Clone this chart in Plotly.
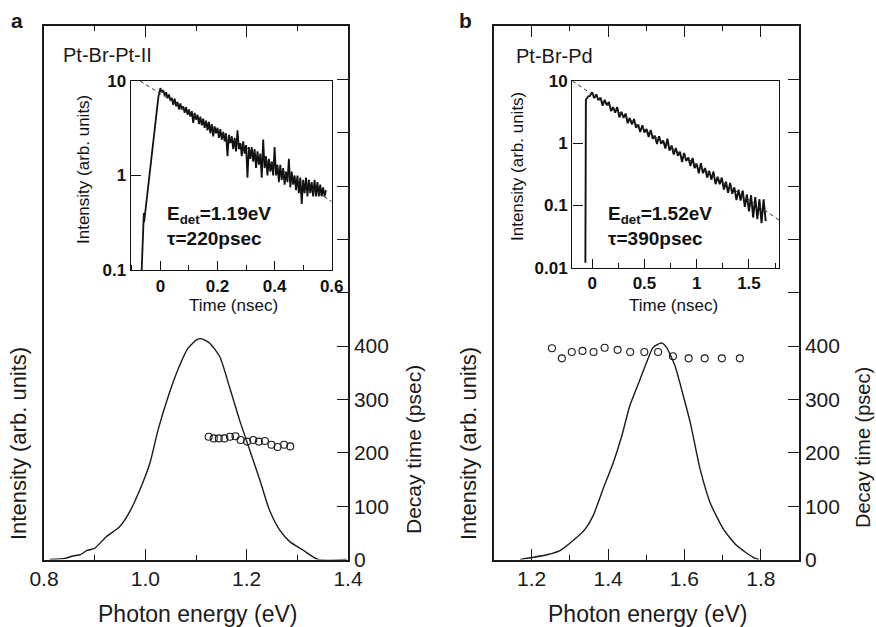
import plotly.graph_objects as go

W, H = 876, 627
def fx(p): return p / W
def fy(p): return 1 - p / H

# ---------------- Data ----------------
# Panel a: Pt-Br-Pt-II emission spectrum (normalised) and decay times
spec_a_E = [0.811, 0.841, 0.857, 0.872, 0.884, 0.900, 0.923, 0.949, 0.969, 0.989, 1.009, 1.025, 1.045,
            1.064, 1.084, 1.101, 1.110, 1.127, 1.147, 1.166, 1.186, 1.206, 1.226, 1.245, 1.265, 1.285,
            1.311, 1.341, 1.397]
spec_a_I = [0.0, 0.005, 0.016, 0.022, 0.040, 0.051, 0.103, 0.148, 0.216, 0.315, 0.436, 0.586, 0.737,
            0.858, 0.956, 0.994, 1.0, 0.979, 0.918, 0.782, 0.631, 0.496, 0.360, 0.224, 0.134, 0.081,
            0.043, 0.0, 0.0]
dec_a_E = [1.125, 1.135, 1.145, 1.156, 1.167, 1.178, 1.188, 1.201, 1.213, 1.224, 1.236, 1.249, 1.261, 1.274, 1.286]
dec_a_T = [230, 227, 227, 227, 230, 231, 224, 221, 224, 221, 222, 215, 211, 215, 212]

# Panel b: Pt-Br-Pd
spec_b_E = [1.170, 1.200, 1.240, 1.274, 1.313, 1.340, 1.361, 1.387, 1.414, 1.436, 1.457, 1.479, 1.501,
            1.518, 1.540, 1.553, 1.575, 1.597, 1.616, 1.641, 1.667, 1.702, 1.737, 1.780, 1.795]
spec_b_I = [0.0, 0.009, 0.022, 0.041, 0.094, 0.140, 0.202, 0.325, 0.448, 0.570, 0.708, 0.808, 0.908,
            0.977, 0.997, 0.977, 0.893, 0.754, 0.625, 0.417, 0.263, 0.140, 0.064, 0.010, 0.0]
dec_b_E = [1.253, 1.279, 1.305, 1.333, 1.362, 1.391, 1.425, 1.458, 1.495, 1.531, 1.570, 1.611, 1.653, 1.698, 1.745]
dec_b_T = [396, 377, 389, 391, 389, 397, 393, 389, 389, 389, 381, 377, 377, 377, 377]

# Inset a: decay trace at 1.19 eV
ins_a_t = [-0.0655, -0.061, -0.058, -0.057, -0.050, -0.042, -0.025, -0.007,
           0.000, 0.005, 0.010, 0.015, 0.020, 0.025, 0.030, 0.035, 0.040, 0.045, 0.050, 0.055, 0.060, 0.065,
           0.070, 0.075, 0.080, 0.085, 0.090, 0.095, 0.100, 0.105, 0.110, 0.115, 0.120, 0.125, 0.130, 0.135,
           0.140, 0.145, 0.150, 0.155, 0.160, 0.165, 0.170, 0.175, 0.180, 0.185, 0.190, 0.195, 0.200, 0.205,
           0.210, 0.215, 0.220, 0.225, 0.230, 0.235, 0.240, 0.245, 0.250, 0.255, 0.260, 0.265, 0.270, 0.275,
           0.280, 0.285, 0.290, 0.295, 0.300, 0.305, 0.310, 0.315, 0.320, 0.325, 0.330, 0.335, 0.340, 0.345,
           0.350, 0.355, 0.360, 0.365, 0.370, 0.375, 0.380, 0.385, 0.390, 0.395, 0.400, 0.405, 0.410, 0.415,
           0.420, 0.425, 0.430, 0.435, 0.440, 0.445, 0.450, 0.455, 0.460, 0.465, 0.470, 0.475, 0.480, 0.485,
           0.490, 0.495, 0.500, 0.505, 0.510, 0.515, 0.520, 0.525, 0.530, 0.535, 0.540, 0.545, 0.550, 0.555,
           0.560, 0.565, 0.570, 0.575, 0.580]
ins_a_I = [0.1, 0.3, 0.4, 0.32, 0.5, 0.78, 2.4, 6.8,
           8.4, 7.6, 8.0, 7.0, 7.6, 6.6, 7.2, 6.2, 6.6, 5.6, 6.5, 5.4, 6.0, 5.0,
           5.8, 5.0, 5.4, 4.6, 5.3, 4.4, 5.0, 4.2, 4.8, 3.6, 4.6, 3.9, 4.4, 3.5,
           4.2, 3.4, 4.0, 3.2, 3.8, 3.0, 3.7, 2.8, 3.5, 2.6, 3.3, 2.8, 3.2, 2.5,
           3.1, 2.4, 2.9, 2.3, 2.8, 1.6, 2.7, 2.2, 2.6, 1.9, 2.5, 1.8, 3.0, 1.9,
           2.2, 1.6, 2.3, 1.7, 2.1, 0.95, 2.0, 1.5, 2.0, 1.4, 1.9, 1.2, 1.8, 1.3,
           1.7, 0.95, 2.4, 1.2, 1.6, 1.0, 1.5, 1.1, 1.4, 1.0, 2.0, 1.0, 1.3, 0.85,
           1.3, 0.9, 1.2, 0.8, 1.1, 0.85, 1.5, 0.75, 1.1, 0.8, 1.0, 0.7, 1.0, 0.65,
           0.95, 0.5, 0.9, 0.65, 0.95, 0.6, 0.9, 0.65, 0.85, 0.6, 0.9, 0.6, 0.85, 0.6,
           0.8, 0.6, 0.75, 0.6, 0.7]
fit_a_t = [-0.071, 0.60]
fit_a_I = [10.0, 0.53]

# Inset b: decay trace at 1.52 eV
ins_b_t = [-0.065, -0.060, -0.040, -0.020,
           0.00, 0.02, 0.04, 0.06, 0.08, 0.10, 0.12, 0.14, 0.16, 0.18, 0.20, 0.22, 0.24, 0.26, 0.28, 0.30,
           0.32, 0.34, 0.36, 0.38, 0.40, 0.42, 0.44, 0.46, 0.48, 0.50, 0.52, 0.54, 0.56, 0.58, 0.60, 0.62,
           0.64, 0.66, 0.68, 0.70, 0.72, 0.74, 0.76, 0.78, 0.80, 0.82, 0.84, 0.86, 0.88, 0.90, 0.92, 0.94,
           0.96, 0.98, 1.00, 1.02, 1.04, 1.06, 1.08, 1.10, 1.12, 1.14, 1.16, 1.18, 1.20, 1.22, 1.24, 1.26,
           1.28, 1.30, 1.32, 1.34, 1.36, 1.38, 1.40, 1.42, 1.44, 1.46, 1.48, 1.50, 1.52, 1.54, 1.56, 1.58,
           1.60, 1.62, 1.64, 1.66]
ins_b_I = [0.012, 5.0, 5.6, 5.8,
           6.6, 5.3, 6.1, 4.9, 5.4, 4.0, 5.0, 4.1, 4.6, 3.3, 3.8, 3.1, 3.8, 2.6, 3.2, 2.55,
           3.0, 2.1, 2.55, 2.0, 2.45, 1.77, 2.0, 1.52, 1.95, 1.49, 1.69, 1.26, 1.63, 1.18, 1.32, 0.97,
           1.29, 0.98, 1.11, 0.82, 1.18, 0.76, 0.92, 0.66, 0.84, 0.63, 0.73, 0.50, 0.70, 0.52, 0.59, 0.43,
           0.58, 0.40, 0.47, 0.33, 0.48, 0.33, 0.40, 0.28, 0.36, 0.26, 0.35, 0.22, 0.29, 0.22, 0.28, 0.18,
           0.24, 0.16, 0.23, 0.154, 0.195, 0.122, 0.18, 0.12, 0.174, 0.095, 0.15, 0.08, 0.146, 0.064, 0.136, 0.06,
           0.126, 0.052, 0.126, 0.056]
fit_b_t = [-0.19, 1.79]
fit_b_I = [10.0, 0.058]

# ---------------- Figure ----------------
INK = "#1a1a1a"
FONT = "Liberation Sans"
fig = go.Figure()

fig.add_trace(go.Scatter(x=spec_a_E, y=spec_a_I, mode="lines", line=dict(color=INK, width=1.4, smoothing=0.6),
                         line_shape="spline", xaxis="x", yaxis="y", showlegend=False))
fig.add_trace(go.Scatter(x=dec_a_E, y=dec_a_T, mode="markers",
                         marker=dict(symbol="circle-open", size=7, color=INK, line=dict(width=1.1)),
                         xaxis="x", yaxis="y2", showlegend=False))
fig.add_trace(go.Scatter(x=ins_a_t, y=ins_a_I, mode="lines", line=dict(color="#111", width=1.8),
                         xaxis="x2", yaxis="y3", showlegend=False))
fig.add_trace(go.Scatter(x=fit_a_t, y=fit_a_I, mode="lines", line=dict(color="#333", width=1, dash="4px,3px"),
                         xaxis="x2", yaxis="y3", showlegend=False))

fig.add_trace(go.Scatter(x=spec_b_E, y=spec_b_I, mode="lines", line=dict(color=INK, width=1.4, smoothing=0.6),
                         line_shape="spline", xaxis="x3", yaxis="y4", showlegend=False))
fig.add_trace(go.Scatter(x=dec_b_E, y=dec_b_T, mode="markers",
                         marker=dict(symbol="circle-open", size=7, color=INK, line=dict(width=1.1)),
                         xaxis="x3", yaxis="y5", showlegend=False))
fig.add_trace(go.Scatter(x=ins_b_t, y=ins_b_I, mode="lines", line=dict(color="#111", width=1.9),
                         xaxis="x4", yaxis="y6", showlegend=False))
fig.add_trace(go.Scatter(x=fit_b_t, y=fit_b_I, mode="lines", line=dict(color="#333", width=1, dash="4px,3px"),
                         xaxis="x4", yaxis="y6", showlegend=False))

# empty traces so that the top (mirror) energy axes get their own subplots
fig.add_trace(go.Scatter(x=[], y=[], mode="lines", xaxis="x5", yaxis="y", showlegend=False, hoverinfo="skip"))
fig.add_trace(go.Scatter(x=[], y=[], mode="lines", xaxis="x6", yaxis="y4", showlegend=False, hoverinfo="skip"))

main_tick = dict(family=FONT, size=21, color=INK)
ins_tick = dict(family=FONT, size=17, color="#111", weight="bold")

def main_x(dom, rng, t0, anchor, top=False, over=None):
    d = dict(range=rng, anchor=anchor, showline=True, linecolor=INK,
             linewidth=1.5, ticks="inside", ticklen=11, tickwidth=1.3, tickcolor=INK, tick0=t0, dtick=0.2,
             tickformat=".1f", tickfont=main_tick, showgrid=False, zeroline=False, automargin=False,
             minor=dict(dtick=0.1, tick0=t0, ticks="inside", ticklen=5, tickwidth=1.3, tickcolor=INK))
    if top:
        d.update(overlaying=over, side="top", showticklabels=False)
    else:
        d.update(domain=dom)
    return d

def main_yl(dom, top, anchor):
    return dict(domain=dom, range=[0, top], anchor=anchor, showline=True, linecolor=INK,
                linewidth=1.5, ticks="", showticklabels=False, showgrid=False, zeroline=False, automargin=False)

def main_yr(over, anchor):
    return dict(overlaying=over, anchor=anchor, side="right", range=[0, 1000],
                tickvals=[0, 100, 200, 300, 400], ticks="inside", ticklen=11, tickwidth=1.3, tickcolor=INK,
                tickfont=main_tick, showline=True, linecolor=INK, linewidth=1.5,
                showgrid=False, zeroline=False, automargin=False,
                minor=dict(dtick=100, tick0=0, ticks="inside", ticklen=11, tickwidth=1.3, tickcolor=INK))

def ins_x(dom, rng, vals, texts, mdt, anchor):
    return dict(domain=dom, range=rng, anchor=anchor, showline=True, mirror=True, linecolor="#111",
                linewidth=1.4, ticks="inside", ticklen=9, tickwidth=1.3, tickcolor="#111", tickvals=vals,
                ticktext=texts, tickfont=ins_tick, showgrid=False, zeroline=False, automargin=False,
                minor=dict(dtick=mdt, tick0=0, ticks="inside", ticklen=5, tickwidth=1.3, tickcolor="#111"))

def ins_y(dom, rng, vals, texts, anchor):
    return dict(domain=dom, type="log", range=rng, anchor=anchor, showline=True, mirror=True,
                linecolor="#111", linewidth=1.4, ticks="inside", ticklen=10, tickwidth=1.3,
                tickcolor="#111", tickvals=vals, ticktext=texts, tickfont=ins_tick,
                showgrid=False, zeroline=False, automargin=False)

main_ydom = [fy(559.5), fy(26)]
fig.update_layout(
    width=W, height=H, margin=dict(l=0, r=0, t=0, b=0, autoexpand=False),
    paper_bgcolor="white", plot_bgcolor="white", showlegend=False,
    xaxis=main_x([fx(44), fx(348)], [0.8, 1.4], 0.8, "y"),
    xaxis5=main_x(None, [0.8, 1.4], 0.8, "y", top=True, over="x"),
    yaxis=main_yl(main_ydom, 1000 / 414, "x"),
    yaxis2=main_yr("y", "x"),
    xaxis2=ins_x([fx(130.7), fx(331.7)], [-0.104, 0.6], [0, 0.2, 0.4, 0.6], ["0", "0.2", "0.4", "0.6"], 0.1, "y3"),
    yaxis3=ins_y([fy(270), fy(81)], [-1, 1], [0.1, 1, 10], ["0.1", "1", "10"], "x2"),
    xaxis3=main_x([fx(493.5), fx(799)], [1.1, 1.9], 1.2, "y4"),
    xaxis6=main_x(None, [1.1, 1.9], 1.2, "y4", top=True, over="x3"),
    yaxis4=main_yl(main_ydom, 1000 / 407, "x3"),
    yaxis5=main_yr("y4", "x3"),
    xaxis4=ins_x([fx(572.3), fx(779.3)], [-0.19, 1.79], [0, 0.5, 1, 1.5], ["0", "0.5", "1", "1.5"], 0.25, "y6"),
    yaxis6=ins_y([fy(267.7), fy(81)], [-2, 1], [0.01, 0.1, 1, 10], ["0.01", "0.1", "1", "10"], "x4"),
)

def ann(text, x, y, size, angle=0, xanchor="center", bold=False, color=INK):
    fig.add_annotation(text=text, x=fx(x), y=fy(y), xref="paper", yref="paper", showarrow=False,
                       xanchor=xanchor, yanchor="middle", textangle=angle,
                       font=dict(family=FONT, size=size, color=color, weight="bold" if bold else "normal"))

# panel letters and sample names
ann("a", 17, 20, 21, bold=True)
ann("b", 465, 20, 21, bold=True)
ann("Pt-Br-Pt-II", 61, 55, 20, xanchor="left")
ann("Pt-Br-Pd", 514, 56, 20, xanchor="left")

# main axis titles
ann("Intensity (arb. units)", 18, 444, 22, angle=-90)
ann("Decay time (psec)", 413, 450, 21, angle=-90)
ann("Photon energy (eV)", 197, 614, 23)
ann("Intensity (arb. units)", 468, 444, 22, angle=-90)
ann("Decay time (psec)", 863, 448, 20, angle=-90)
ann("Photon energy (eV)", 647, 614, 23)

# inset titles
ann("Time (nsec)", 233, 305, 17, color="#111")
ann("Intensity (arb. units)", 84, 170, 17, angle=-90, color="#111")
ann("Time (nsec)", 673, 305, 17, color="#111")
ann("Intensity (arb. units)", 517, 167, 17, angle=-90, color="#111")

# inset annotations
ann("<b>E<sub>det</sub>=1.19eV</b>", 165, 215, 19, xanchor="left", color="#111")
ann("<b>τ=220psec</b>", 165, 239, 19, xanchor="left", color="#111")
ann("<b>E<sub>det</sub>=1.52eV</b>", 606, 215, 19, xanchor="left", color="#111")
ann("<b>τ=390psec</b>", 606, 239, 19, xanchor="left", color="#111")

fig.write_html("out.html")
